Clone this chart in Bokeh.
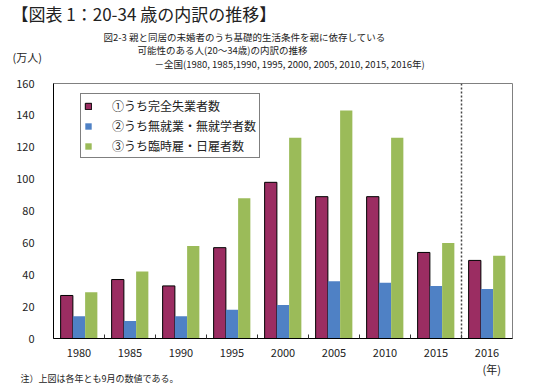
from bokeh.plotting import figure
from bokeh.layouts import column
from bokeh.models import (Range1d, FixedTicker, Span, Label, Legend, LegendItem, ColumnDataSource)
from bokeh.embed import file_html
from bokeh.resources import INLINE

years = ["1980", "1985", "1990", "1995", "2000", "2005", "2010", "2015", "2016"]
unemployed = [27, 37, 33, 57, 98, 89, 89, 54, 49]
no_work_no_school = [14, 11, 14, 18, 21, 36, 35, 33, 31]
temp_day_workers = [29, 42, 58, 88, 126, 143, 126, 60, 52]
series_names = ["①うち完全失業者数", "②うち無就業・無就学者数", "③うち臨時雇・日雇者数"]
y_ticks = [0, 20, 40, 60, 80, 100, 120, 140, 160]

FONT = "Noto Sans CJK JP"
colors = ["#9B2D62", "#4F81C5", "#9BBB59"]
W = 546
HEAD_H = 73
MAIN_TOP = 10
MAIN_BOTTOM = 24
FOOT_TOP = HEAD_H + MAIN_TOP + 255 + MAIN_BOTTOM
FOOT_H = 386 - FOOT_TOP


def text_panel(height):
    f = figure(width=W, height=height, output_backend="svg", toolbar_location=None,
               x_axis_location=None, y_axis_location=None,
               x_range=Range1d(0, W), y_range=Range1d(0, height), min_border=0)
    f.frame_align = False
    f.outline_line_color = None
    f.grid.visible = False
    f.background_fill_color = "white"
    f.border_fill_color = "white"
    return f


def lab(fig, text, rx, ry, size, top, weight="normal"):
    fig.add_layout(Label(x=rx, y=fig.height - (ry - top), x_units="screen", y_units="screen",
                         text=text, text_font=FONT, text_font_size=size, text_color="#222222",
                         text_font_style=weight, text_baseline="middle", text_align="left"))


# header
head = text_panel(HEAD_H)
lab(head, "【図表 1：20-34 歳の内訳の推移】", 11, 13, "17px", 0)
lab(head, "図2-3  親と同居の未婚者のうち基礎的生活条件を親に依存している", 103, 36, "9.5px", 0)
lab(head, "可能性のある人(20～34歳)の内訳の推移", 137, 49, "9.5px", 0)
lab(head, "－全国(1980, 1985,1990, 1995, 2000, 2005, 2010, 2015, 2016年)", 154, 63, "9.5px", 0)
lab(head, "(万人)", 12, 56, "11px", 0)

# main chart
idx = list(range(len(years)))
bw = 0.24

p = figure(width=W, height=MAIN_TOP + 255 + MAIN_BOTTOM, output_backend="svg", toolbar_location=None,
           x_range=Range1d(-0.5, len(years) - 0.5), y_range=Range1d(0, 160),
           min_border_left=53, min_border_right=W - 512, min_border_top=MAIN_TOP,
           min_border_bottom=MAIN_BOTTOM)
p.frame_align = False
p.background_fill_color = "white"
p.border_fill_color = "white"
p.outline_line_color = "#808080"
p.outline_line_width = 1
p.grid.visible = False

src = ColumnDataSource(dict(
    x0=[i - bw for i in idx], x1=idx, x2=[i + bw for i in idx],
    a=unemployed, b=no_work_no_school, c=temp_day_workers))

r1 = p.vbar(x="x0", top="a", width=bw, source=src, fill_color=colors[0], line_color="black", line_width=1)
r2 = p.vbar(x="x1", top="b", width=bw, source=src, fill_color=colors[1], line_color=None)
r3 = p.vbar(x="x2", top="c", width=bw, source=src, fill_color=colors[2], line_color=None)

xa = p.xaxis[0]
xa.ticker = FixedTicker(ticks=idx, minor_ticks=[i + 0.5 for i in idx[:-1]])
xa.major_label_overrides = {i: y for i, y in zip(idx, years)}
xa.major_tick_line_color = None
xa.minor_tick_in = 4
xa.minor_tick_out = 0
xa.minor_tick_line_color = "#333333"
xa.axis_line_color = "black"
xa.major_label_standoff = 4
xa.major_label_text_font = FONT
xa.major_label_text_font_size = "11px"
xa.major_label_text_color = "#222222"

ya = p.yaxis[0]
ya.ticker = FixedTicker(ticks=y_ticks)
ya.major_tick_line_color = None
ya.minor_tick_line_color = None
ya.axis_line_color = "black"
ya.major_label_standoff = 13
ya.major_label_text_font = FONT
ya.major_label_text_font_size = "11px"
ya.major_label_text_color = "#222222"

p.add_layout(Span(location=len(years) - 1.5, dimension="height", line_color="#444444",
                  line_dash="2 2", line_width=1.5))

legend = Legend(items=[LegendItem(label=series_names[0], renderers=[r1]),
                       LegendItem(label=series_names[1], renderers=[r2]),
                       LegendItem(label=series_names[2], renderers=[r3])],
                location=(27, 180), orientation="vertical")
legend.border_line_color = "black"
legend.border_line_width = 1
legend.background_fill_alpha = 1
legend.glyph_width = 8
legend.glyph_height = 8
legend.label_standoff = 20
legend.label_height = 14
legend.spacing = 3
legend.padding = 3
legend.margin = 0
legend.label_text_font = FONT
legend.label_text_font_size = "12px"
legend.label_text_color = "#222222"
p.add_layout(legend, "center")

# footer
foot = text_panel(FOOT_H)
lab(foot, "(年)", 482, 368, "11px", FOOT_TOP)
lab(foot, "注）上図は各年とも9月の数値である。", 20, 378, "9px", FOOT_TOP)

layout = column(head, p, foot, spacing=0)
open("out.html", "w").write(file_html(layout, INLINE))
